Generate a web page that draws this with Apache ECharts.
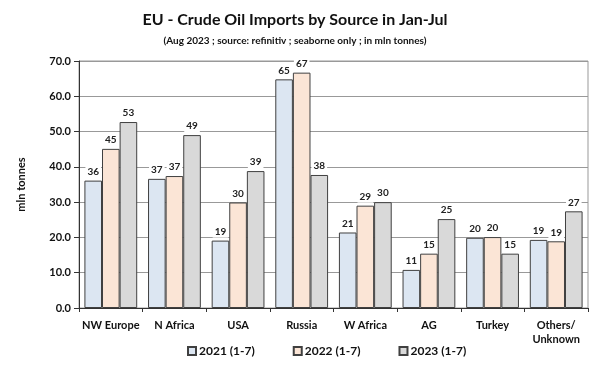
<!DOCTYPE html>
<html>
<head>
<meta charset="utf-8">
<script src="https://cdn.jsdelivr.net/npm/echarts@6/dist/echarts.min.js"></script>
<style>
  html, body { margin: 0; padding: 0; background: #fff; }
  #chart { width: 600px; height: 376px; }
</style>
</head>
<body>
<div id="chart"></div>
<script>
// categories and series values (mln tonnes)
var sources = ["NW Europe", "N Africa", "USA", "Russia", "W Africa", "AG", "Turkey", "Others/\nUnknown"];
var seriesNames = ["2021 (1-7)", "2022 (1-7)", "2023 (1-7)"];
var v2021 = [36.1, 36.6, 19.1, 64.8, 21.4, 10.8, 19.9, 19.3];
var v2022 = [45.1, 37.4, 29.9, 66.7, 29.0, 15.4, 20.1, 18.9];
var v2023 = [52.7, 49.0, 38.8, 37.7, 30.0, 25.2, 15.4, 27.4];
var colors = ["#dce6f2", "#fbe5d6", "#d9d9d9"];

var font = "Lato, 'Open Sans', sans-serif";
var chart = echarts.init(document.getElementById("chart"));

function makeSeries(name, data, color) {
  return {
    name: name,
    type: "bar",
    data: data,
    barGap: "0%",
    barCategoryGap: "17%",
    itemStyle: { color: color, borderColor: "#404040", borderWidth: 1 },
    label: {
      show: true,
      position: "top",
      distance: 3,
      fontFamily: font,
      fontWeight: "bold",
      fontSize: 10,
      color: "#222",
      backgroundColor: "#fff",
      padding: [1, 2],
      formatter: function (p) { return Math.round(p.value); }
    }
  };
}

var option = {
  animation: false,
  title: {
    text: "EU - Crude Oil Imports by Source in Jan-Jul",
    subtext: "(Aug 2023 ; source: refinitiv ; seaborne only ; in mln tonnes)",
    left: 290,
    textAlign: "center",
    top: 7,
    itemGap: 8,
    textStyle: { fontFamily: font, fontWeight: "bold", fontSize: 16, color: "#111" },
    subtextStyle: { fontFamily: font, fontWeight: "bold", fontSize: 10, color: "#111" }
  },
  legend: {
    data: seriesNames,
    bottom: 14,
    left: 182,
    itemWidth: 8,
    itemHeight: 8,
    itemGap: 38,
    icon: "rect",
    textStyle: { fontFamily: font, fontWeight: "bold", fontSize: 12, color: "#111", padding: [0, 0, 0, -2] }
  },
  grid: {
    left: 79, right: 12, top: 61, bottom: 68,
    show: true, borderColor: "#999", borderWidth: 1
  },
  xAxis: {
    type: "category",
    data: sources,
    axisLine: { lineStyle: { color: "#333" } },
    axisTick: { show: true, length: 4, lineStyle: { color: "#333" } },
    axisLabel: { interval: 0, fontFamily: font, fontWeight: "bold", fontSize: 11, color: "#111", margin: 10, lineHeight: 14 }
  },
  yAxis: {
    type: "value",
    min: 0, max: 70, interval: 10,
    name: "mln tonnes",
    nameLocation: "middle",
    nameGap: 52,
    nameTextStyle: { fontFamily: font, fontWeight: "bold", fontSize: 11, color: "#111" },
    axisLine: { show: true, lineStyle: { color: "#333" } },
    axisTick: { show: true, length: 5, lineStyle: { color: "#333" } },
    axisLabel: {
      fontFamily: font, fontWeight: "bold", fontSize: 11, color: "#111", margin: 8,
      formatter: function (v) { return v.toFixed(1); }
    },
    splitLine: { lineStyle: { color: "#999" } }
  },
  series: [
    makeSeries(seriesNames[0], v2021, colors[0]),
    makeSeries(seriesNames[1], v2022, colors[1]),
    makeSeries(seriesNames[2], v2023, colors[2])
  ]
};
chart.setOption(option);
</script>
</body>
</html>
